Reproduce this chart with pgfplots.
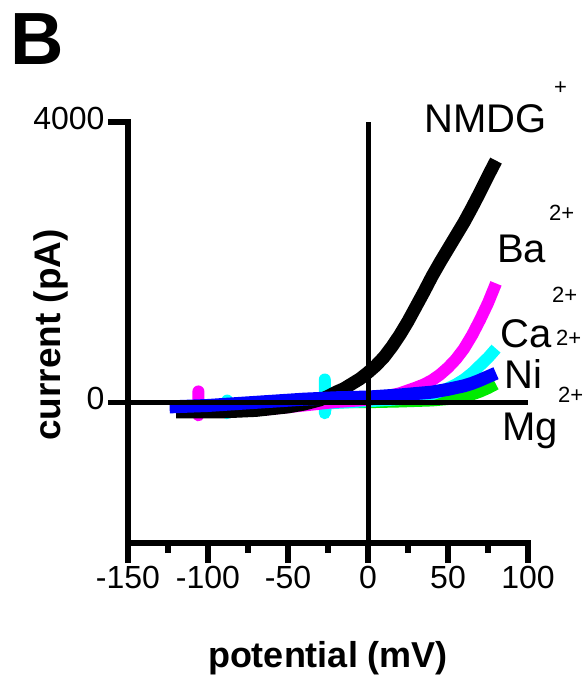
\documentclass[border=0pt]{standalone}
\usepackage{fontspec}
\setmainfont{Liberation Sans}
\usepackage{pgfplots}
\pgfplotsset{compat=1.18}
\definecolor{bacol}{RGB}{255,0,255}
\definecolor{cacol}{RGB}{0,255,255}
\definecolor{nicol}{RGB}{0,0,255}
\definecolor{mgcol}{RGB}{0,235,0}
\newcommand\lab{\fontsize{40}{40}\selectfont}
\newcommand\chg{\fontsize{22}{22}\selectfont}

\begin{document}
\begin{tikzpicture}
\path[use as bounding box] (0,0) rectangle (584pt,-676pt);
\begin{axis}[
  at={(128pt,-543pt)}, anchor=south west,
  scale only axis, width=400pt, height=421pt,
  xmin=-150, xmax=100, ymin=-2000, ymax=4000,
  axis x line*=bottom, axis y line*=left,
  axis line style={line width=5.5pt, line cap=rect},
  xtick={-150,-100,-50,0,50,100},
  xticklabels={-150,-100,-50,0,50,100},
  minor xtick={-125,-75,-25,25,75},
  ytick={0,4000}, yticklabels={0,4000},
  tick align=outside,
  major tick length=20pt, minor tick length=10pt,
  tick style={line width=5.5pt, black},
  ticklabel style={font=\fontsize{32}{32}\selectfont},
  yticklabel style={yshift=4pt},
  clip=false,
]
% Mg2+
\addplot[mgcol, line width=11pt, line join=round] coordinates {
(-120,-70)(-80,-40)(-60,-20)(-40,0)(0,0)(20,10)(40,25)(50,45)(60,80)(65,110)(70,150)(75,200)(80,260)};
% Ca2+
\addplot[cacol, line width=12pt, line join=round] coordinates {
(-120,-80)(-88,-60)(-88,30)(-88,-150)(-87,-60)(-60,-35)(-27,-10)(-27,330)(-27,-150)(-26,-10)
(0,20)(20,50)(30,80)(40,120)(45,160)(50,205)(55,260)(60,330)(65,420)(70,530)(75,640)(80,770)};
% Ba2+
\addplot[bacol, line width=12pt, line join=round] coordinates {
(-120,-100)(-106,-90)(-106,160)(-106,-180)(-105,-90)(-80,-110)(-65,-100)(-40,-40)(-20,10)
(0,40)(10,80)(20,135)(30,215)(35,260)(40,320)(45,400)(50,500)(55,620)(60,770)(65,960)
(70,1180)(75,1420)(80,1700)};
% NMDG+
\addplot[black, line width=13pt, line join=round] coordinates {
(-120,-130)(-90,-130)(-70,-110)(-50,-60)(-40,-20)(-30,40)(-25,90)(-20,150)(-15,200)(-10,270)
(-5,340)(0,430)(5,530)(10,650)(15,800)(20,970)(25,1160)(30,1370)(35,1580)(40,1800)(45,2000)
(50,2190)(55,2380)(60,2570)(65,2780)(70,3000)(75,3230)(80,3450)};
% Ni2+
\addplot[nicol, line width=13pt, line join=round] coordinates {
(-124,-60)(-100,-40)(-80,-10)(-60,20)(-40,50)(-20,70)(0,80)(20,110)(40,150)(50,190)
(60,240)(65,275)(70,320)(75,370)(80,420)};
% zero lines
\addplot[black, line width=5.5pt] coordinates {(-150,0)(100,0)};
\addplot[black, line width=5pt] coordinates {(0,-2000)(0,4000)};
\end{axis}
\node[anchor=base west, inner sep=0, font=\fontsize{74}{74}\selectfont\bfseries] at (10pt,-65pt) {B};
\node[anchor=base, inner sep=0, font=\fontsize{36}{36}\selectfont\bfseries] at (328pt,-667pt) {potential (mV)};
\node[anchor=base, inner sep=0, rotate=90, font=\fontsize{37}{37}\selectfont\bfseries] at (60pt,-335pt) {current (pA)};
\node[anchor=base west, inner sep=0, font=\lab] at (424pt,-133pt) {NMDG};
\node[anchor=west, inner sep=0, font=\chg] at (554pt,-88pt) {+};
\node[anchor=base west, inner sep=0, font=\lab] at (497pt,-262pt) {Ba};
\node[anchor=west, inner sep=0, font=\chg] at (549pt,-213pt) {2+};
\node[anchor=base west, inner sep=0, font=\lab] at (500pt,-347pt) {Ca};
\node[anchor=west, inner sep=0, font=\chg] at (552pt,-295pt) {2+};
\node[anchor=base west, inner sep=0, font=\lab] at (504pt,-388pt) {Ni};
\node[anchor=west, inner sep=0, font=\chg] at (556pt,-338pt) {2+};
\node[anchor=base west, inner sep=0, font=\lab] at (502pt,-440pt) {Mg};
\node[anchor=west, inner sep=0, font=\chg] at (558pt,-395pt) {2+};
\end{tikzpicture}
\end{document}
